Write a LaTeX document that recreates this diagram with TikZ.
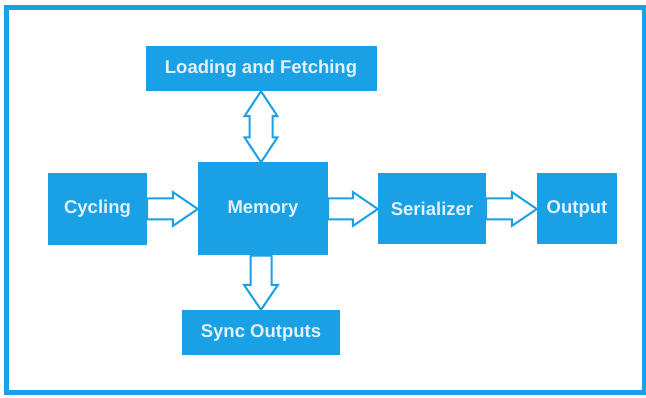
\documentclass[tikz,border=0pt]{standalone}
\usepackage{fontspec}
\setmainfont{Liberation Sans}
\usepackage{tikz}
\usetikzlibrary{calc,shapes,positioning}
\definecolor{skyblue}{RGB}{26,161,229}
\definecolor{boxtext}{RGB}{224,241,252}
% hollow block arrow, one head
\newcommand{\fatarrow}[2]{%
  \coordinate (hb) at ($(#2)!25pt!(#1)$);
  \draw[hollow] ($(#1)!10.5pt!90:(#2)$) -- ($(hb)!10.5pt!-90:(#1)$) -- ($(hb)!17pt!-90:(#1)$)
    -- (#2) -- ($(hb)!17pt!90:(#1)$) -- ($(hb)!10.5pt!90:(#1)$) -- ($(#1)!10.5pt!-90:(#2)$) -- cycle;}
% hollow block arrow, two heads
\newcommand{\fatarrowboth}[2]{%
  \coordinate (ha) at ($(#1)!25pt!(#2)$);
  \coordinate (hb) at ($(#2)!25pt!(#1)$);
  \draw[hollow] (#1) -- ($(ha)!16.5pt!90:(#2)$) -- ($(ha)!11.5pt!90:(#2)$) -- ($(hb)!11.5pt!-90:(#1)$)
    -- ($(hb)!16.5pt!-90:(#1)$) -- (#2) -- ($(hb)!16.5pt!90:(#1)$) -- ($(hb)!11.5pt!90:(#1)$)
    -- ($(ha)!11.5pt!-90:(#2)$) -- ($(ha)!16.5pt!-90:(#2)$) -- cycle;}

\begin{document}
\begin{tikzpicture}[x=1pt,y=-1pt]

    \tikzstyle{block}=[fill=skyblue, text=boxtext, inner sep=0pt, font=\fontsize{18.5}{22}\selectfont\bfseries]
    \tikzstyle{hollow}=[draw=skyblue, fill=white, line width=2pt, line join=miter]

    \useasboundingbox (0,0) rectangle (646,398);
    \draw[skyblue, line width=5pt] (6.5,8) rectangle (644,393);

    \node[block, minimum width=231pt, minimum height=45pt] (load) at (261,68.5) {Loading and Fetching};
    \node[block, minimum width=130pt, minimum height=93pt] (mem) at (263,209) {Memory};
    \node[block, minimum width=99pt, minimum height=72pt] (cyc) at (97.5,209) {Cycling};
    \node[block, minimum width=108pt, minimum height=71pt] (ser) at (432,209) {Serializer};
    \node[block, minimum width=80pt, minimum height=71pt] (out) at (577,209) {Output};
    \node[block, minimum width=158pt, minimum height=45pt] (sync) at (261,332.5) {Sync Outputs};

    \coordinate (memtop) at (load.south |- mem.north);
    \coordinate (membot) at (sync.north |- mem.south);

    \fatarrow{cyc.east}{mem.west}
    \fatarrow{mem.east}{ser.west}
    \fatarrow{ser.east}{out.west}
    \fatarrow{membot}{sync.north}
    \fatarrowboth{load.south}{memtop}
 \end{tikzpicture}
\end{document}
